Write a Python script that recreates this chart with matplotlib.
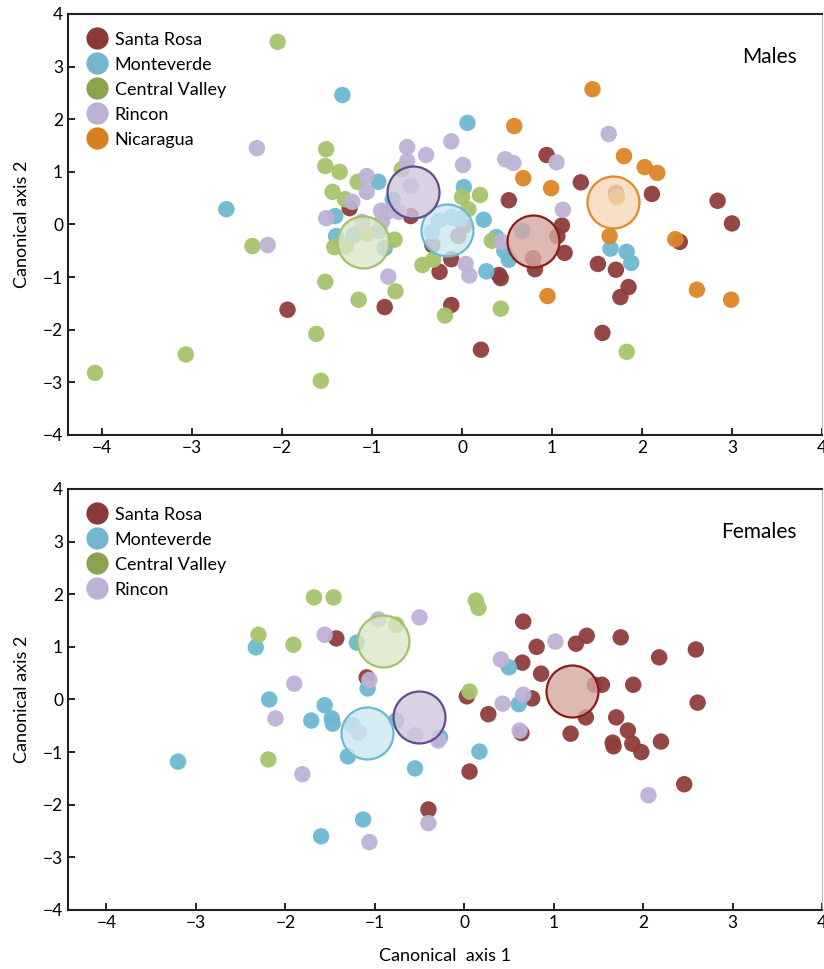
import matplotlib.pyplot as plt
from matplotlib.lines import Line2D

plt.rcParams['font.family'] = ['Lato', 'DejaVu Sans']

groups = ["Santa Rosa", "Monteverde", "Central Valley", "Rincon", "Nicaragua"]

# ---- Males (top panel) ----
m_santa_rosa = [(-1.25, 0.31), (-0.57, 0.16), (-1.94, -1.62), (-0.86, -1.57), (-0.33, -0.39),
                (-0.25, -0.90), (-0.12, -0.66), (0.02, -0.03), (-0.04, -0.22), (0.41, -0.96),
                (0.43, -1.02), (-0.12, -1.53), (0.21, -2.38), (1.11, -0.02), (1.06, -0.22),
                (1.14, -0.54), (0.79, -0.64), (0.81, -0.85), (1.51, -0.75), (1.71, -0.86),
                (1.85, -1.19), (1.76, -1.38), (1.56, -2.06), (2.42, -0.33), (2.84, 0.45),
                (3.00, 0.02), (1.71, 0.60), (0.52, 0.46), (2.11, 0.58), (0.94, 1.32), (1.32, 0.80)]
m_monteverde = [(-1.33, 2.46), (-0.93, 0.81), (-2.62, 0.29), (-0.77, 0.47), (-1.41, 0.16),
                (-1.40, -0.22), (-1.20, -0.20), (-0.92, -0.12), (-0.86, -0.45), (0.06, 1.93),
                (0.02, 0.71), (-0.26, 0.07), (-0.12, 0.14), (-0.03, 0.10), (-0.33, -0.14),
                (0.24, 0.09), (0.27, -0.89), (0.38, -0.24), (0.47, -0.50), (0.52, -0.67),
                (0.67, -0.12), (1.65, -0.46), (1.83, -0.52), (1.88, -0.73)]
m_central_valley = [(-2.05, 3.47), (-1.51, 1.43), (-1.52, 1.11), (-1.36, 1.00), (-1.16, 0.81),
                    (-1.44, 0.62), (-0.67, 1.05), (-1.30, 0.48), (-2.33, -0.41), (-1.52, -1.09),
                    (-1.15, -1.43), (-0.74, -1.27), (-1.62, -2.08), (-3.07, -2.47), (-1.57, -2.97),
                    (-4.08, -2.82), (-1.42, -0.43), (-1.29, -0.41), (-1.06, -0.18), (-0.75, -0.29),
                    (-0.44, -0.77), (-0.32, -0.67), (-0.19, -1.73), (0.43, -1.60), (1.83, -2.42),
                    (0.00, 0.52), (0.20, 0.56), (0.07, 0.29), (0.33, -0.31)]
m_rincon = [(-2.28, 1.45), (-1.06, 0.92), (-1.06, 0.62), (-0.61, 1.47), (-0.40, 1.32),
            (-0.61, 1.20), (-0.57, 0.73), (-1.22, 0.43), (-0.90, 0.26), (-1.51, 0.12),
            (-2.16, -0.39), (-0.82, -0.99), (-1.11, 0.05), (-0.89, 0.05), (-0.83, 0.24),
            (-0.70, 0.24), (-0.12, 1.58), (0.01, 1.13), (0.04, -0.75), (0.08, -0.97),
            (0.44, -0.33), (1.12, 0.28), (0.48, 1.24), (0.57, 1.17), (1.05, 1.18), (1.63, 1.72)]
m_nicaragua = [(1.45, 2.57), (0.58, 1.87), (1.80, 1.30), (2.03, 1.09), (2.17, 0.98),
               (0.68, 0.88), (0.99, 0.69), (1.72, 0.52), (1.64, -0.22), (2.37, -0.28),
               (2.61, -1.24), (2.99, -1.43), (0.95, -1.36)]
m_centroids = [(0.79, -0.31), (-0.17, -0.10), (-1.10, -0.33), (-0.54, 0.62), (1.68, 0.42)]

# ---- Females (bottom panel) ----
f_santa_rosa = [(-1.43, 1.16), (-1.09, 0.42), (-0.40, -2.09), (0.03, 0.06), (0.27, -0.28),
                (0.76, 0.02), (0.64, -0.64), (0.06, -1.37), (1.36, -0.34), (1.19, -0.65),
                (1.70, -0.34), (1.83, -0.59), (1.66, -0.82), (1.67, -0.89), (1.88, -0.84),
                (1.98, -1.00), (2.20, -0.80), (2.61, -0.06), (2.46, -1.61), (1.46, 0.28),
                (1.54, 0.28), (1.89, 0.28), (0.66, 1.48), (0.81, 1.00), (1.25, 1.06),
                (1.37, 1.21), (1.75, 1.18), (2.18, 0.80), (2.59, 0.95), (0.65, 0.70), (0.86, 0.49)]
f_monteverde = [(-2.33, 0.99), (-1.20, 1.08), (-1.08, 0.21), (-2.18, 0.00), (-1.56, -0.11),
                (-1.71, -0.40), (-1.48, -0.36), (-1.47, -0.46), (-1.25, -0.49), (-0.76, -0.40),
                (-1.30, -1.08), (-3.20, -1.18), (-0.55, -1.31), (-1.13, -2.28), (-1.60, -2.60),
                (-0.27, -0.72), (0.61, -0.09), (0.17, -0.99), (0.50, 0.61)]
f_central_valley = [(-1.68, 1.94), (-1.46, 1.94), (-0.76, 1.42), (-2.30, 1.23), (-1.91, 1.04),
                    (-2.19, -1.14), (0.06, 0.15), (0.13, 1.88), (0.16, 1.74)]
f_rincon = [(-0.96, 1.52), (-0.50, 1.56), (-1.56, 1.23), (-1.06, 0.37), (-1.90, 0.30),
            (-2.11, -0.36), (-1.18, -0.63), (-0.55, -0.68), (-1.81, -1.42), (-0.40, -2.35),
            (-1.06, -2.71), (-0.29, -0.78), (0.43, -0.08), (0.66, 0.09), (0.62, -0.59),
            (2.06, -1.82), (0.41, 0.76), (1.02, 1.10)]
f_centroids = [(1.20, 0.16), (-1.09, -0.64), (-0.91, 1.12), (-0.51, -0.34)]

dot_colors = ["#8e3d3a", "#6cb9d2", "#a7c46b", "#beb2d6", "#de8526"]
legend_colors = ["#8b3a38", "#72b6cf", "#8da24c", "#bcb0d5", "#d97f22"]
ring_fill = [(0.84, 0.66, 0.63, 0.8), (0.80, 0.91, 0.95, 0.8), (0.86, 0.90, 0.79, 0.8),
             (0.82, 0.78, 0.87, 0.8), (0.97, 0.85, 0.72, 0.8)]
ring_edge = ["#8b1c1a", "#6cb9d2", "#a3c16a", "#5e4e8e", "#e08a2a"]

fig = plt.figure(figsize=(8.24, 9.69), dpi=100)
ax_m = fig.add_axes([0.0825, 0.5511, 0.915, 0.4345])
ax_f = fig.add_axes([0.0825, 0.0609, 0.915, 0.4345])


def draw_panel(ax, sets, centroids, label, xlim):
    for i, pts in enumerate(sets):
        xs = [p[0] for p in pts]
        ys = [p[1] for p in pts]
        ax.scatter(xs, ys, s=140, color=dot_colors[i], edgecolors="none", alpha=0.95, zorder=3)
    for i, c in enumerate(centroids):
        ax.scatter([c[0]], [c[1]], s=1400, facecolor=ring_fill[i], edgecolor=ring_edge[i],
                   linewidth=1.6, zorder=4)
    ax.set_xlim(*xlim)
    ax.set_ylim(-4, 4)
    ax.set_xticks(range(-4, 5))
    ax.set_yticks(range(-4, 5))
    ax.tick_params(direction="in", length=5, width=1.2, labelsize=12.5, top=False, right=False)
    for side in ["left", "bottom", "top"]:
        ax.spines[side].set_linewidth(1.5)
        ax.spines[side].set_color("#222222")
    ax.spines["right"].set_color("#bbbbbb")
    ax.set_ylabel("Canonical axis 2", fontsize=13, labelpad=9)
    handles = [Line2D([0], [0], marker="o", linestyle="none", markersize=16,
                      markerfacecolor=legend_colors[i], markeredgecolor="none")
               for i in range(len(sets))]
    ax.legend(handles, groups[:len(sets)], loc="upper left", bbox_to_anchor=(0.008, 0.988),
              frameon=False, fontsize=13, handletextpad=0.35, labelspacing=0.5,
              borderaxespad=0.3, handlelength=1.2)
    ax.text(0.967, 0.898, label, transform=ax.transAxes, ha="right", va="center", fontsize=15)


draw_panel(ax_m, [m_santa_rosa, m_monteverde, m_central_valley, m_rincon, m_nicaragua],
           m_centroids, "Males", (-4.38, 4.0))
draw_panel(ax_f, [f_santa_rosa, f_monteverde, f_central_valley, f_rincon],
           f_centroids, "Females", (-4.43, 4.0))
ax_f.set_xlabel("Canonical  axis 1", fontsize=13, labelpad=12)

fig.savefig("out.png", dpi=100)
